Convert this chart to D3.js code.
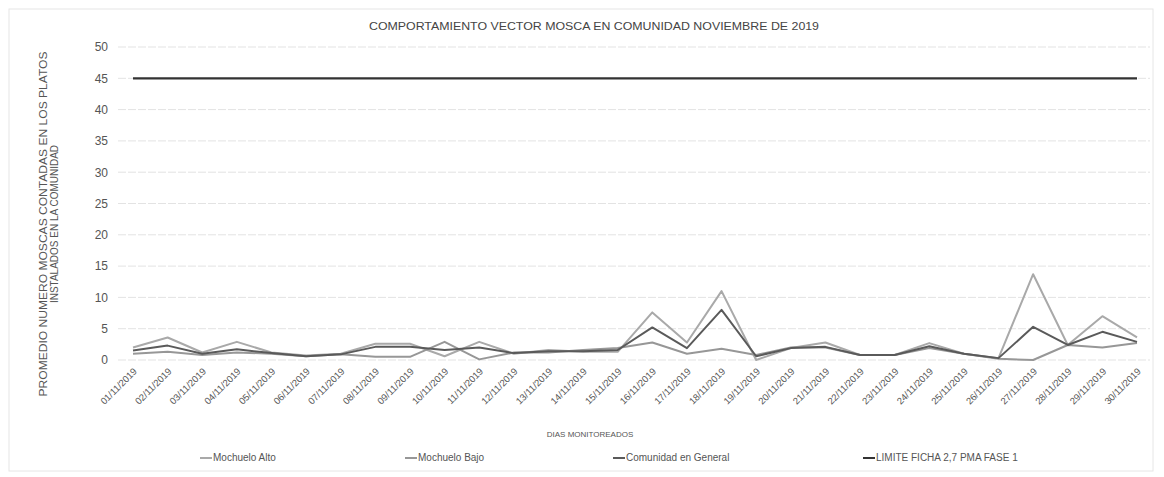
<!DOCTYPE html>
<html>
<head>
<meta charset="utf-8">
<script src="https://cdn.jsdelivr.net/npm/d3@7"></script>
<style>
  body { margin: 0; background: #fff; }
  svg { display: block; font-family: "Liberation Sans", Arial, sans-serif; }
</style>
</head>
<body>
<svg id="chart" width="1164" height="477"></svg>
<script>
const categories = ["01/11/2019","02/11/2019","03/11/2019","04/11/2019","05/11/2019","06/11/2019","07/11/2019","08/11/2019","09/11/2019","10/11/2019","11/11/2019","12/11/2019","13/11/2019","14/11/2019","15/11/2019","16/11/2019","17/11/2019","18/11/2019","19/11/2019","20/11/2019","21/11/2019","22/11/2019","23/11/2019","24/11/2019","25/11/2019","26/11/2019","27/11/2019","28/11/2019","29/11/2019","30/11/2019"];
const mochueloAlto = [2.0,3.6,1.2,2.9,1.2,0.7,1.0,2.6,2.6,0.6,2.9,1.0,1.6,1.3,1.3,7.6,2.8,11.0,0.0,1.9,2.8,0.8,0.8,2.7,1.0,0.3,13.7,2.4,7.0,3.6];
const mochueloBajo = [1.0,1.3,0.8,1.2,1.0,0.6,0.9,0.5,0.5,2.9,0.1,1.2,1.2,1.6,1.9,2.8,1.0,1.8,0.8,2.0,2.0,0.8,0.8,1.9,1.0,0.2,0.0,2.4,2.0,2.7];
const comunidadGeneral = [1.5,2.3,1.0,1.7,1.1,0.6,0.9,2.1,2.1,1.6,2.0,1.1,1.4,1.4,1.6,5.2,1.9,8.0,0.6,1.9,2.1,0.8,0.8,2.2,1.0,0.3,5.3,2.4,4.5,2.9];
const limite = categories.map(() => 45);
const yTicks = [0,5,10,15,20,25,30,35,40,45,50];

const seriesNames = ["Mochuelo Alto","Mochuelo Bajo","Comunidad en General","LIMITE FICHA 2,7 PMA FASE 1"];
const seriesColors = ["#a9a9a9","#979797","#5a5a5a","#333333"];
const seriesData = [mochueloAlto, mochueloBajo, comunidadGeneral, limite];

const svg = d3.select("#chart");

// faint frame
svg.append("rect").attr("x", 9).attr("y", 9).attr("width", 1144).attr("height", 462)
  .attr("fill", "none").attr("stroke", "#e6e6e6").attr("stroke-width", 1);

const x = d3.scalePoint().domain(categories).range([133, 1137]);
const y = d3.scaleLinear().domain([0, 50]).range([360, 47]);

// gridlines
svg.append("g").selectAll("line").data(yTicks).join("line")
  .attr("x1", 118).attr("x2", 1150)
  .attr("y1", d => y(d)).attr("y2", d => y(d))
  .attr("stroke", "#e3e3e3").attr("stroke-width", 1).attr("stroke-dasharray", "8,2");

// y axis labels
const yAxis = d3.axisLeft(y).tickValues(yTicks).tickSize(0).tickPadding(0);
const gy = svg.append("g").attr("transform", "translate(108,0)").call(yAxis);
gy.select(".domain").remove();
gy.selectAll("text").attr("font-size", 12).attr("fill", "#555");

// x axis labels
const xAxis = d3.axisBottom(x).tickSize(0).tickPadding(0);
const gx = svg.append("g").attr("transform", "translate(0,368)").call(xAxis);
gx.select(".domain").remove();
gx.selectAll("text")
  .attr("font-size", 9.5).attr("fill", "#555")
  .attr("text-anchor", "end")
  .attr("dy", 0)
  .attr("transform", "translate(4,4) rotate(-45)");

// lines
const line = d3.line().x((d, i) => x(categories[i])).y(d => y(d));
seriesData.forEach((data, k) => {
  svg.append("path").datum(data)
    .attr("fill", "none")
    .attr("stroke", seriesColors[k])
    .attr("stroke-width", k === 3 ? 2.2 : 2)
    .attr("stroke-linejoin", "round")
    .attr("d", line);
});

// title
svg.append("text").attr("x", 594).attr("y", 30).attr("text-anchor", "middle")
  .attr("font-size", 11).attr("fill", "#444")
  .attr("textLength", 450).attr("lengthAdjust", "spacingAndGlyphs")
  .text("COMPORTAMIENTO VECTOR MOSCA EN COMUNIDAD NOVIEMBRE DE 2019");

// y axis title
const yt = svg.append("text").attr("transform", "translate(47,224) rotate(-90)")
  .attr("text-anchor", "middle").attr("font-size", 10).attr("fill", "#555");
yt.append("tspan").attr("x", 0).attr("dy", 0)
  .attr("textLength", 345).attr("lengthAdjust", "spacingAndGlyphs")
  .text("PROMEDIO NUMERO MOSCAS CONTADAS EN LOS PLATOS");
yt.append("tspan").attr("x", 0).attr("dy", 11).text("INSTALADOS EN LA COMUNIDAD");

// x axis title
svg.append("text").attr("x", 590).attr("y", 437).attr("text-anchor", "middle")
  .attr("font-size", 8).attr("fill", "#555").text("DIAS MONITOREADOS");

// legend
const legendX = [200, 405, 613, 863];
const lg = svg.append("g").selectAll("g").data(seriesNames).join("g")
  .attr("transform", (d, i) => `translate(${legendX[i]},461)`);
lg.append("line").attr("x1", 0).attr("x2", 12).attr("y1", -3).attr("y2", -3)
  .attr("stroke", (d, i) => seriesColors[i]).attr("stroke-width", 2);
lg.append("text").attr("x", 13).attr("y", 0).attr("font-size", 10).attr("fill", "#555")
  .text(d => d);
</script>
</body>
</html>
